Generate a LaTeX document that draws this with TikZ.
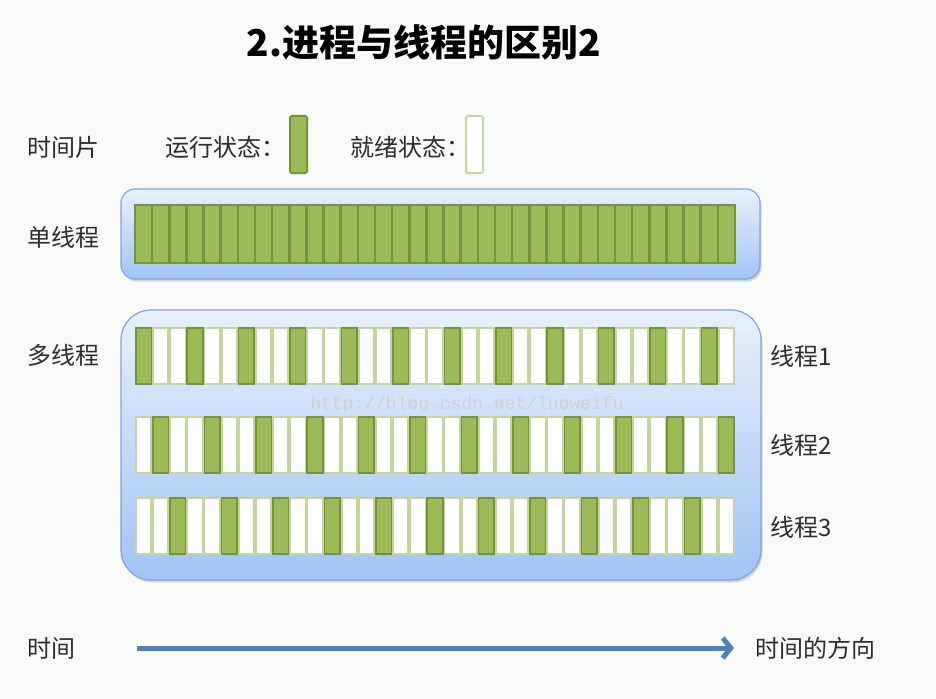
\documentclass[tikz,border=0pt]{standalone}
\usepackage{fontspec}
\newfontfamily\cjk{Noto Sans CJK SC}
\setmonofont{Liberation Mono}
\usetikzlibrary{shadows,arrows.meta}
\definecolor{bg}{RGB}{248,250,248}
\definecolor{runfill}{RGB}{155,187,89}
\definecolor{runline}{RGB}{118,146,60}
\definecolor{readyline}{RGB}{195,214,155}
\definecolor{boxtop}{RGB}{232,240,252}
\definecolor{boxbot}{RGB}{160,196,245}
\definecolor{boxline}{RGB}{130,165,215}
\definecolor{arrowc}{RGB}{79,129,189}
\definecolor{txt}{RGB}{45,45,45}
\definecolor{wmark}{RGB}{208,208,208}
\tikzset{
  lbl/.style={font=\cjk\fontsize{24}{28}\selectfont, text=txt, inner sep=0pt, anchor=west},
  runcell/.style={fill=runfill, draw=runline, line width=2pt},
  panel/.style={top color=boxtop, bottom color=boxbot, draw=boxline, line width=1.2pt,
    drop shadow={shadow xshift=1.5pt, shadow yshift=-2.5pt, opacity=0.3}},
}
\begin{document}
\begin{tikzpicture}[x=1pt,y=-1pt]
\useasboundingbox (0,0) rectangle (936,698);
\fill[bg] (0,0) rectangle (936,698);

% title
\node (title) at (424,42) {\cjk\bfseries\fontsize{37}{41}\selectfont 2.进程与线程的区别2};

% legend
\node[lbl] (lblslice) at (27,147) {时间片};
\node[lbl] (lblrun) at (165,147) {运行状态：};
\draw[runcell, rounded corners=1.5pt] (290,116) rectangle (307,173);
\node[lbl] (lblready) at (350,147) {就绪状态：};
\draw[fill=white, draw=readyline, line width=2pt, rounded corners=1.5pt] (466,116) rectangle (483,173);

% single thread
\node[lbl] (lblsingle) at (27,237) {单线程};
\draw[panel, rounded corners=14pt] (121,189) rectangle (760,279);
\pgfmathsetmacro{\w}{600/35}
\foreach \i in {0,...,34}{
  \draw[runcell, line width=2.5pt] ({135+\i*\w},205) rectangle ({135+(\i+1)*\w},263);
}

% multi thread
\node[lbl] (lblmulti) at (27,355) {多线程};
\draw[panel, rounded corners=30pt] (121,310) rectangle (761,580);
\foreach \r/\ya/\yb in {0/327/385, 1/416/474, 2/497/555}{
  \fill[readyline] (135,\ya) rectangle (735,\yb);
  \foreach \i in {0,...,34}{
    \pgfmathtruncatemacro{\m}{mod(\i,3)}
    \ifnum\m=\r
      \draw[runcell, line width=1.6pt] ({135+\i*\w+0.8},{\ya+0.8}) rectangle ({135+(\i+1)*\w-0.8},{\yb-0.8});
    \else
      \fill[white] ({135+\i*\w+1.8},{\ya+2}) rectangle ({135+(\i+1)*\w-1.8},{\yb-2});
    \fi
  }
}
\node[lbl] (t1) at (770,356) {线程1};
\node[lbl] (t2) at (770,445) {线程2};
\node[lbl] (t3) at (770,527) {线程3};

% watermark
\node[text=wmark, font=\ttfamily\fontsize{18}{20}\selectfont, inner sep=0pt] (wm) at (467,405) {http://blog.csdn.net/luoweifu};

% time arrow
\node[lbl] (lbltime) at (27,648) {时间};
\node[lbl] (lbldir) at (755,648) {时间的方向};
\coordinate (as) at (137,648);
\coordinate (ae) at (734,648);
\draw[arrowc, line width=5pt, -{Straight Barb[length=8pt,width=20pt]}] (as) -- (ae);
\end{tikzpicture}
\end{document}
